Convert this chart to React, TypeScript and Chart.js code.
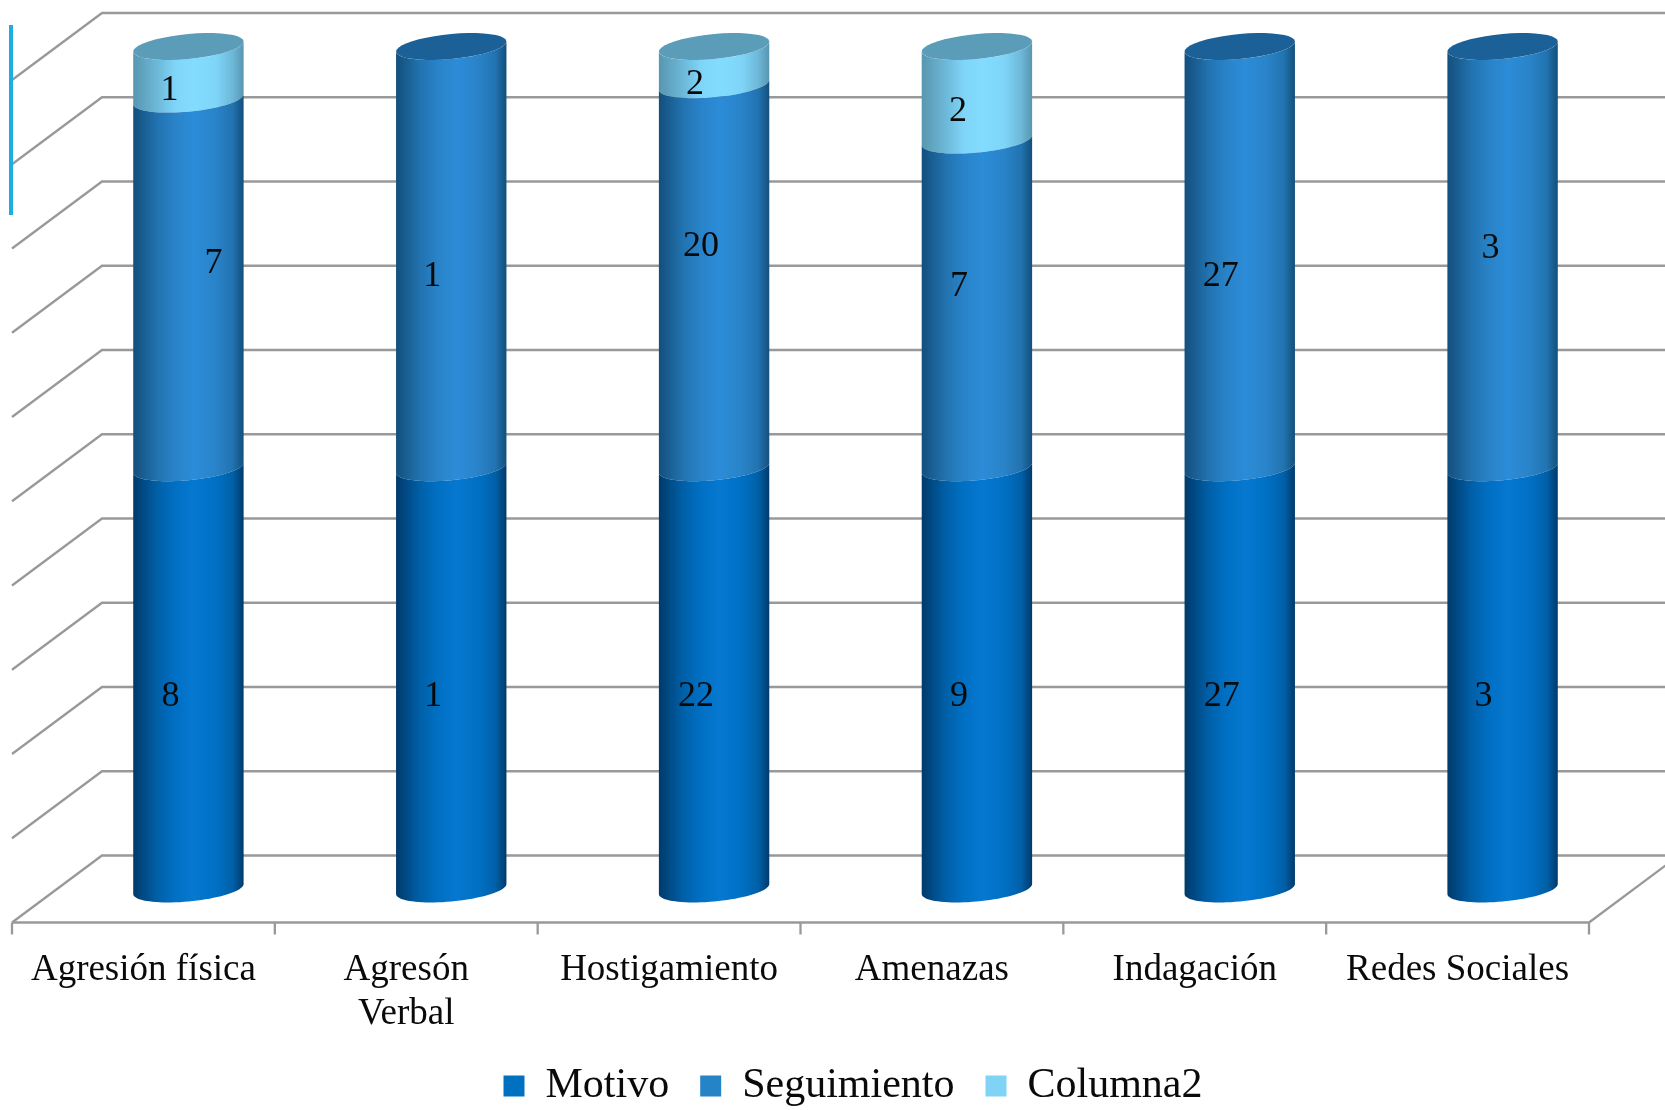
import React, { useEffect, useRef } from "react";
import { Chart, BarController, registerables } from "chart.js";

const categories: (string | string[])[] = [
  "Agresión física",
  ["Agresón", "Verbal"],
  "Hostigamiento",
  "Amenazas",
  "Indagación",
  "Redes Sociales",
];
const motivo = [8, 1, 22, 9, 27, 3];
const seguimiento = [7, 1, 20, 7, 27, 3];
const columna2 = [1, 0, 2, 2, 0, 0];

// manual label displacements seen in the picture (px from the segment centre)
const motivoNudge = [[-18, 18], [-18, 18], [-18, 18], [-18, 18], [-18, 18], [-19, 18]];
const seguimientoNudge = [[25, -20], [-19, 19], [-13, -30], [-18, -17], [-19, 19], [-12, -9]];
const columna2Nudge = [[-19, 18], [0, 0], [-19, 19], [-19, 18], [0, 0], [0, 0]];

const FONT = "'Liberation Serif', 'Times New Roman', serif";
const DEPTH_X = 45;
const DEPTH_Y = 33.5;
const GRID = "#999999";

const totals = motivo.map((v, i) => v + seguimiento[i] + columna2[i]);
const pct = (arr: number[]) => arr.map((v, i) => (v / totals[i]) * 100);

function arc(ctx: CanvasRenderingContext2D, cx: number, cy: number, w: number, from: number, to: number) {
  const k = 5;
  const m = 12.5;
  const n = 40;
  for (let j = 0; j <= n; j++) {
    const t = from + ((to - from) * j) / n;
    ctx.lineTo(cx + w * Math.cos(t), cy - k * Math.cos(t) + m * Math.sin(t));
  }
}

class CylinderController extends BarController {
  static id = "cylinder";
  draw() {
    const ctx = this.chart.ctx;
    const ds: any = this.getDataset();
    const bars: any[] = this._cachedMeta.data;
    const top = this.chart.chartArea.top;
    ctx.save();
    bars.forEach((bar) => {
      const { x, y, base, width } = bar;
      if (Math.abs(base - y) < 0.5) return;
      const w = width / 2;
      const g = ctx.createLinearGradient(x - w, 0, x + w, 0);
      const [edge, shade, mid, bright] = ds.shades;
      g.addColorStop(0, edge);
      g.addColorStop(0.22, shade);
      g.addColorStop(0.38, mid);
      g.addColorStop(0.55, bright);
      g.addColorStop(0.75, mid);
      g.addColorStop(0.9, shade);
      g.addColorStop(1, edge);
      ctx.beginPath();
      arc(ctx, x, y, w, Math.PI, 0);
      arc(ctx, x, base, w, 0, Math.PI);
      ctx.closePath();
      ctx.fillStyle = g;
      ctx.fill();
      if (y <= top + 1) {
        ctx.beginPath();
        arc(ctx, x, y, w, Math.PI, -Math.PI);
        ctx.closePath();
        ctx.fillStyle = ds.capColor;
        ctx.fill();
      }
    });
    ctx.restore();
  }
}

Chart.register(...registerables, CylinderController);

const wallPlugin = {
  id: "wall",
  beforeDatasetsDraw(chart: any) {
    const { ctx, chartArea } = chart;
    const xs = chart.scales.x;
    const ys = chart.scales.y;
    const frontL = chartArea.left - DEPTH_X;
    const frontR = chartArea.right - DEPTH_X;
    const backL = chartArea.left + DEPTH_X;
    const frontY = chartArea.bottom + DEPTH_Y;
    ctx.save();
    ctx.strokeStyle = GRID;
    ctx.lineWidth = 2.3;
    ys.ticks.forEach((t: any) => {
      const yb = ys.getPixelForValue(t.value) - DEPTH_Y;
      ctx.beginPath();
      ctx.moveTo(frontL, yb + 2 * DEPTH_Y);
      ctx.lineTo(backL, yb);
      ctx.lineTo(chart.width, yb);
      ctx.stroke();
    });
    ctx.beginPath();
    ctx.moveTo(frontL, frontY);
    ctx.lineTo(frontR, frontY);
    ctx.lineTo(frontR + 2 * DEPTH_X, frontY - 2 * DEPTH_Y);
    ctx.stroke();
    const step = xs.width / categories.length;
    for (let i = 0; i <= categories.length; i++) {
      const px = frontL + step * i;
      ctx.beginPath();
      ctx.moveTo(px, frontY);
      ctx.lineTo(px, frontY + 12);
      ctx.stroke();
    }
    // stray accent rule at the left edge of the source picture
    ctx.fillStyle = "#1CADE4";
    ctx.fillRect(9, 25, 4, 190);
    ctx.restore();
  },
};

const labelPlugin = {
  id: "segLabels",
  afterDatasetsDraw(chart: any) {
    const { ctx } = chart;
    ctx.save();
    ctx.font = `36px ${FONT}`;
    ctx.fillStyle = "#0a0a0a";
    ctx.textAlign = "center";
    ctx.textBaseline = "middle";
    chart.data.datasets.forEach((ds: any, di: number) => {
      chart.getDatasetMeta(di).data.forEach((bar: any, i: number) => {
        const n = ds.counts[i];
        if (!n) return;
        const [dx, dy] = ds.nudge[i];
        ctx.fillText(String(n), bar.x + dx, (bar.y + bar.base) / 2 + dy);
      });
    });
    ctx.restore();
  },
};

export default function App() {
  const ref = useRef<HTMLCanvasElement>(null);
  useEffect(() => {
    document.body.style.margin = "0";
    document.body.style.background = "#fff";
    const chart = new Chart(ref.current!, {
      type: "cylinder" as any,
      data: {
        labels: categories as any,
        datasets: [
          {
            label: "Motivo",
            data: pct(motivo),
            counts: motivo,
            nudge: motivoNudge,
            backgroundColor: "#0070C0",
            shades: ["#003a6b", "#0060a8", "#0070c4", "#0678d0"],
            capColor: "#004f88",
            clip: false,
          },
          {
            label: "Seguimiento",
            data: pct(seguimiento),
            counts: seguimiento,
            nudge: seguimientoNudge,
            backgroundColor: "#2683C6",
            shades: ["#134f7c", "#2273b0", "#2983c8", "#2c8cd8"],
            capColor: "#1b6197",
            clip: false,
          },
          {
            label: "Columna2",
            data: pct(columna2),
            counts: columna2,
            nudge: columna2Nudge,
            backgroundColor: "#7FD3F5",
            shades: ["#5896b0", "#6db8d8", "#7fd5f8", "#82dcff"],
            capColor: "#5b9db8",
            clip: false,
          },
        ] as any,
      },
      options: {
        animation: false,
        responsive: false,
        devicePixelRatio: 1,
        datasets: { cylinder: { barPercentage: 0.42, categoryPercentage: 1 } } as any,
        layout: { padding: { top: 46.5, left: 57, right: 16, bottom: -7 } },
        plugins: {
          tooltip: { enabled: false },
          title: { display: false },
          legend: {
            display: true,
            position: "bottom",
            labels: {
              boxWidth: 21,
              boxHeight: 21,
              padding: 31,
              color: "#0a0a0a",
              font: { family: FONT, size: 42 },
            },
          },
        },
        scales: {
          x: {
            stacked: true,
            grid: { display: false, drawTicks: false },
            border: { display: false },
            ticks: {
              autoSkip: false,
              maxRotation: 0,
              minRotation: 0,
              labelOffset: -DEPTH_X,
              padding: 59,
              color: "#0a0a0a",
              font: { family: FONT, size: 37 },
            },
            afterFit(s: any) {
              s.height = 145;
              s.paddingLeft = 0;
              s.paddingRight = 0;
            },
          },
          y: {
            stacked: true,
            position: "right",
            min: 0,
            max: 100,
            grid: { display: false, drawTicks: false },
            border: { display: false },
            ticks: { display: false, stepSize: 10 },
            afterFit(s: any) {
              s.width = 15;
              s.paddingTop = 0;
              s.paddingBottom = 0;
            },
          },
        },
      } as any,
      plugins: [wallPlugin, labelPlugin],
    });
    return () => chart.destroy();
  }, []);
  return (
    <div style={{ position: "fixed", left: 0, top: 0, width: 1665, height: 1110, overflow: "hidden", background: "#fff" }}>
      <canvas ref={ref} width={1665} height={1110} style={{ display: "block" }} />
    </div>
  );
}
